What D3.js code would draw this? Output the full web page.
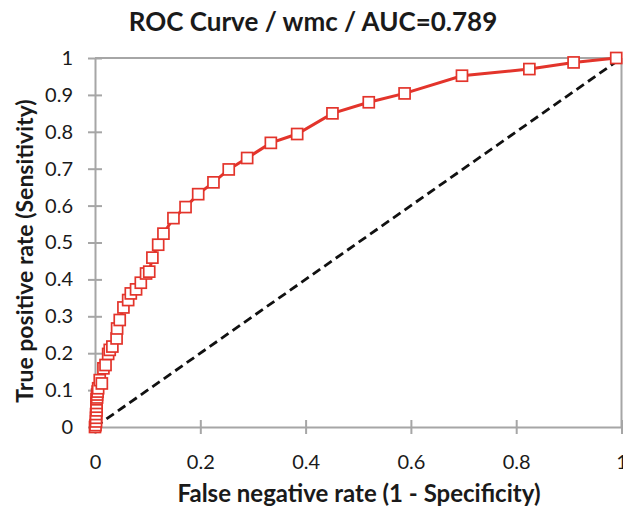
<!DOCTYPE html>
<html><head><meta charset="utf-8">
<script src="https://cdnjs.cloudflare.com/ajax/libs/d3/7.8.5/d3.min.js"></script>
<style>body{margin:0;background:#fff}svg{display:block}</style>
</head><body>
<script>
const fpr = [0,0.001,0.002,0.002,0.002,0.003,0.003,0.003,0.003,0.004,0.004,0.005,0.006,0.009,0.013,0.016,0.020,0.025,0.028,0.033,0.041,0.042,0.047,0.054,0.063,0.068,0.078,0.087,0.097,0.103,0.109,0.120,0.130,0.149,0.172,0.196,0.225,0.254,0.289,0.334,0.384,0.451,0.520,0.588,0.697,0.825,0.909,0.990];
const tpr = [0,0.005,0.015,0.025,0.035,0.045,0.055,0.065,0.075,0.080,0.088,0.096,0.105,0.127,0.118,0.159,0.168,0.198,0.209,0.218,0.240,0.267,0.290,0.324,0.344,0.362,0.373,0.391,0.416,0.421,0.459,0.494,0.524,0.566,0.596,0.631,0.663,0.698,0.729,0.770,0.794,0.850,0.880,0.904,0.952,0.970,0.988,1.000];
const diag = [0,1];
const xTicks = [0,0.2,0.4,0.6,0.8,1];
const yTicks = [0,0.1,0.2,0.3,0.4,0.5,0.6,0.7,0.8,0.9,1];
const title = "ROC Curve / wmc / AUC=0.789";
const xTitle = "False negative rate (1 - Specificity)";
const yTitle = "True positive rate (Sensitivity)";

const W=623,H=507;
const L=95,R=621.5,T=58,B=427;
const font="Lato, 'Open Sans', sans-serif";
const svg=d3.select("body").append("svg").attr("width",W).attr("height",H);
const x=d3.scaleLinear().domain([0,1]).range([L,R]);
const y=d3.scaleLinear().domain([0,1]).range([B,T]);
const grey="#a6a6a6";

svg.append("line").attr("x1",L).attr("x2",R).attr("y1",T).attr("y2",T).attr("stroke",grey).attr("stroke-width",2);
svg.append("line").attr("x1",R).attr("x2",R).attr("y1",T).attr("y2",B).attr("stroke",grey).attr("stroke-width",2);

const xa=svg.append("g").attr("transform",`translate(0,${B})`)
  .call(d3.axisBottom(x).tickValues(xTicks).tickFormat(d3.format("~g")).tickSizeInner(7).tickSizeOuter(0).tickPadding(21));
xa.selectAll(".tick line").attr("y1",-7);
const ya=svg.append("g").attr("transform",`translate(${L},0)`)
  .call(d3.axisLeft(y).tickValues(yTicks).tickFormat(d3.format("~g")).tickSizeInner(7).tickSizeOuter(0).tickPadding(15));
ya.selectAll(".tick line").attr("x1",7);
[xa,ya].forEach(a=>{
  a.select(".domain").attr("stroke",grey).attr("stroke-width",2);
  a.selectAll(".tick line").attr("stroke",grey).attr("stroke-width",2);
  a.selectAll(".tick text").attr("fill","#1a1a1a").style("font-family",font).style("font-size","20px");
});

svg.append("line").attr("x1",x(diag[0])).attr("y1",y(diag[0])).attr("x2",x(diag[1])).attr("y2",y(diag[1]))
  .attr("stroke","#111").attr("stroke-width",2.8).attr("stroke-dasharray","9,5");

const pts=fpr.map((f,i)=>[f,tpr[i]]);
const red="#e3342b";
svg.append("path").datum(pts).attr("fill","none").attr("stroke",red).attr("stroke-width",3)
  .attr("d",d3.line().x(d=>x(d[0])).y(d=>y(d[1])));
svg.selectAll("rect.m").data(pts).join("rect").attr("class","m")
  .attr("x",d=>x(d[0])-5.5).attr("y",d=>y(d[1])-5.5).attr("width",11).attr("height",11)
  .attr("fill","#fff").attr("stroke",red).attr("stroke-width",1.7);

svg.append("text").attr("x",313).attr("y",31).attr("text-anchor","middle")
  .style("font-family",font).style("font-weight","bold").style("font-size","26px").attr("fill","#1a1a1a").text(title);
svg.append("text").attr("x",359).attr("y",502).attr("text-anchor","middle")
  .style("font-family",font).style("font-weight","bold").style("font-size","24px").attr("fill","#1a1a1a").text(xTitle);
svg.append("text").attr("transform","translate(33,251) rotate(-90)").attr("text-anchor","middle")
  .style("font-family",font).style("font-weight","bold").style("font-size","23px").attr("fill","#1a1a1a").text(yTitle);
</script>
</body></html>
